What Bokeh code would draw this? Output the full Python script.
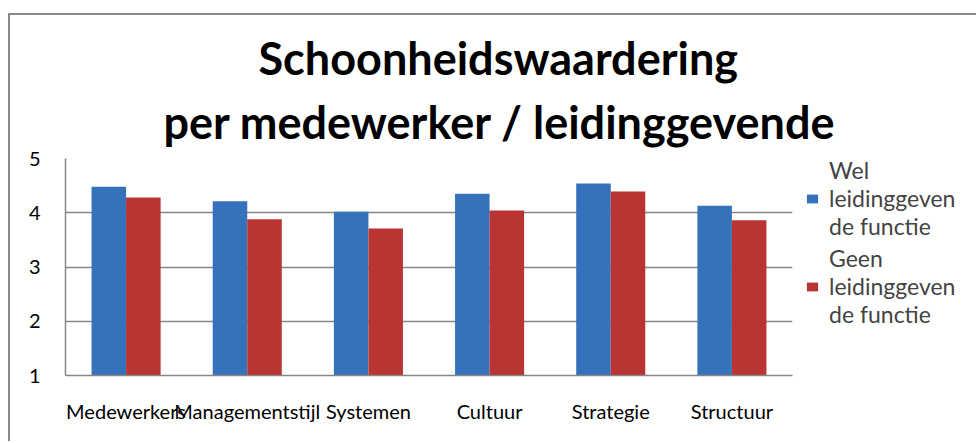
from bokeh.plotting import figure
from bokeh.models import (FactorRange, Range1d, FixedTicker, Legend, LegendItem,
                          Title, ColumnDataSource)
from bokeh.transform import dodge
from bokeh.embed import file_html
from bokeh.resources import INLINE

categories = ["Medewerkers", "Managementstijl", "Systemen", "Cultuur", "Strategie", "Structuur"]
wel = [4.48, 4.21, 4.02, 4.35, 4.54, 4.13]
geen = [4.28, 3.88, 3.71, 4.04, 4.39, 3.86]
series_names = ["Wel\nleidinggeven\nde functie", "Geen\nleidinggeven\nde functie"]
y_ticks = [1, 2, 3, 4, 5]
title_lines = ["Schoonheidswaardering", "per medewerker / leidinggevende"]

FONT = "Lato"
GRID = "#868686"

src = ColumnDataSource(dict(cat=categories, wel=wel, geen=geen))

p = figure(x_range=FactorRange(*categories), y_range=Range1d(1, 5),
           frame_width=727, frame_height=217, output_backend="svg", toolbar_location=None,
           min_border_left=55, min_border_right=176, min_border_top=143,
           min_border_bottom=66)
p.styles = {"border-left": "2px solid #888888", "border-top": "2px solid #888888",
            "margin-top": "13px", "margin-left": "8px"}

r1 = p.vbar(x=dodge("cat", -0.1425, range=p.x_range), top="wel", bottom=1, width=0.285,
            source=src, fill_color="#3672BA", line_color=None)
r2 = p.vbar(x=dodge("cat", 0.1425, range=p.x_range), top="geen", bottom=1, width=0.285,
            source=src, fill_color="#B93533", line_color=None)

legend = Legend(items=[LegendItem(label=series_names[0], renderers=[r1]),
                       LegendItem(label=series_names[1], renderers=[r2])],
                location=(13, 47), glyph_width=14, glyph_height=11,
                label_text_font=FONT, label_text_font_size="23px",
                spacing=4, label_standoff=10,
                border_line_color=None, background_fill_alpha=0,
                padding=0, margin=0)
p.add_layout(legend, "right")

p.outline_line_color = None
p.xgrid.visible = False
p.ygrid.grid_line_color = GRID
p.ygrid.grid_line_width = 1.5
p.yaxis.ticker = FixedTicker(ticks=y_ticks)

for ax in (p.xaxis, p.yaxis):
    ax.axis_line_color = GRID
    ax.axis_line_width = 1.5
    ax.major_tick_line_color = None
    ax.minor_tick_line_color = None
    ax.major_tick_out = 0
    ax.major_tick_in = 0
    ax.major_label_text_font = FONT
    ax.major_label_text_color = "#000000"

p.yaxis.major_label_standoff = 25
p.yaxis.major_label_text_font_size = "20px"
p.xaxis.major_label_text_font_size = "20px"
p.xaxis.major_label_standoff = 23

# second line first (closest to the frame), then first line above it
for txt, off, so in [(title_lines[1], 98, 20), (title_lines[0], 193, -4)]:
    p.add_layout(Title(text=txt, align="left", offset=off, standoff=so,
                       text_font=FONT, text_font_style="bold", text_font_size="45px",
                       text_color="#000000"), "above")

open("out.html", "w").write(file_html(p, INLINE))
